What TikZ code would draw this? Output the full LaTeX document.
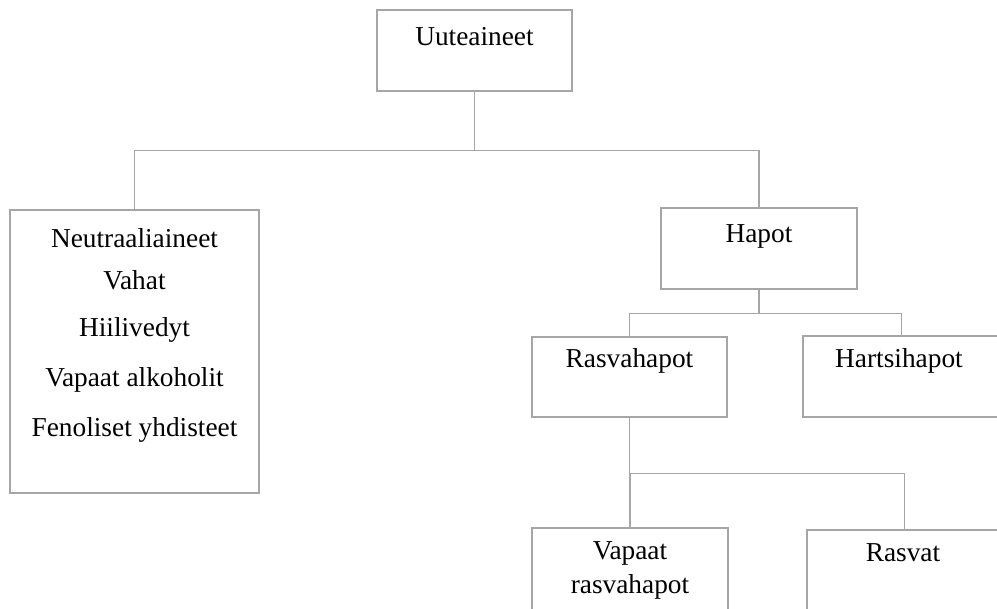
\documentclass[tikz,border=0pt]{standalone}
\usepackage{fontspec}
\setmainfont{Liberation Serif}
\definecolor{linegray}{RGB}{166,166,166}
\tikzset{
  box/.style 2 args={draw=linegray, line width=1.1pt, inner sep=0pt,
    minimum width=#1*0.75pt, minimum height=#2*0.75pt},
  txt/.style={inner sep=0pt, align=center,
    font=\fontsize{20.5}{25.5}\selectfont},
  link/.style={draw=linegray, line width=1.1pt}
}
\begin{document}
\begin{tikzpicture}[x=0.75pt, y=-0.75pt]
\useasboundingbox (0,0) rectangle (997,608);
\clip (0,0) rectangle (997,608);
% boxes
\node[box={195}{81}] (uut) at (474.5,50.5) {};
\node[box={249}{283}] (neu) at (134.5,351.5) {};
\node[box={196}{81}] (hap) at (759,248.5) {};
\node[box={195}{80}] (ras) at (629.5,377) {};
\node[box={197}{81}] (har) at (901.5,376.5) {};
\node[box={196}{120}] (vap) at (630,588) {};
\node[box={195}{120}] (rsv) at (904.5,590) {};
% texts
\node[txt] (uuttxt) at (474.5,37) {Uuteaineet};
\foreach \t/\y/\n in {Neutraaliaineet/238/1, Vahat/280/2, Hiilivedyt/330/3,
  Vapaat alkoholit/380/4, Fenoliset yhdisteet/430/5}
  \node[txt] (neutxt\n) at (134.5,\y) {\t};
\node[txt] (haptxt) at (759,236) {Hapot};
\node[txt] (rastxt) at (629.5,361) {Rasvahapot};
\node[txt] (hartxt) at (899,361) {Hartsihapot};
\node[txt] (vaptxt) at (630,570) {Vapaat\\rasvahapot};
\node[txt] (rsvtxt) at (903,553) {Rasvat};
% connectors
\draw[link] (uut.south) -- ++(0,59) coordinate (bar1) -| (neu.north);
\draw[link] (bar1) -| (hap.north);
\draw[link] (hap.south) -- ++(0,24) coordinate (bar2) -| (ras.north);
\draw[link] (bar2) -| (har.north);
\draw[link] (ras.south) -- ++(0,56) coordinate (bar3) -| (vap.north);
\draw[link] (bar3) -| (rsv.north);
\end{tikzpicture}
\end{document}
